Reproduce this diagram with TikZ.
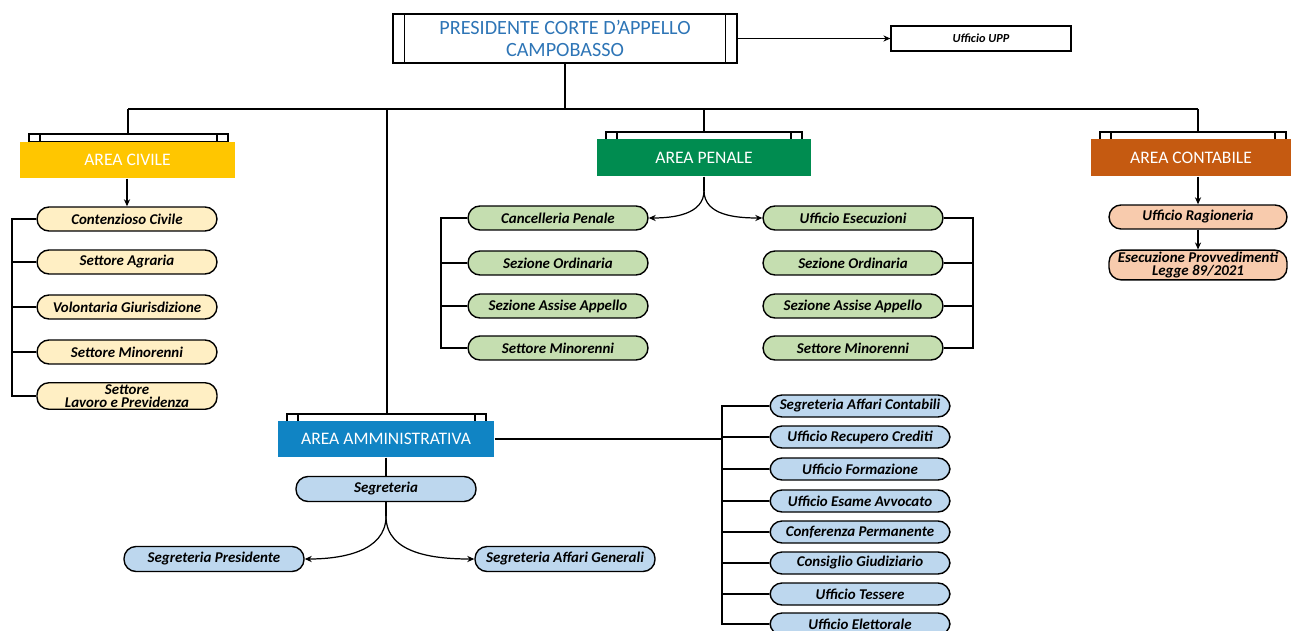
\documentclass[tikz,border=0pt]{standalone}
\usepackage{fontspec}
\setmainfont{Carlito}
\usetikzlibrary{arrows.meta}

\definecolor{presblue}{RGB}{46,117,182}
\definecolor{civyellow}{RGB}{255,198,0}
\definecolor{pengreen}{RGB}{0,140,80}
\definecolor{conorange}{RGB}{197,90,17}
\definecolor{ammblue}{RGB}{16,132,196}
\definecolor{civpill}{RGB}{255,239,196}
\definecolor{penpill}{RGB}{197,222,176}
\definecolor{conpill}{RGB}{248,203,173}
\definecolor{ammpill}{RGB}{189,215,238}

\tikzset{
  area/.style={minimum width=4.3cm, minimum height=0.72cm, inner sep=0pt,
    text=white, font=\fontsize{10}{11}\selectfont},
  pill/.style={draw, line width=0.8pt, rounded corners=0.24cm,
    minimum width=3.6cm, minimum height=0.48cm, inner xsep=2pt, inner ysep=0pt,
    align=center, font=\fontsize{8.5}{7.5}\selectfont\bfseries\itshape},
  arr/.style={-{Stealth[length=4pt,width=3.5pt]}},
}

% linguetta sopra le aree: sinistra, destra, alto
\newcommand{\areatab}[3]{%
  \draw[fill=white] (#1,#3) rectangle (#2,#3+8);
  \draw (#1+11,#3) -- (#1+11,#3+8);
  \draw (#2-11,#3) -- (#2-11,#3+8);
}

\begin{document}
\begin{tikzpicture}[x=0.02cm, y=-0.02cm, line width=0.7pt]
  \useasboundingbox (0,0) rectangle (1293,631);

  % Presidente e ufficio UPP
  \node[draw, minimum width=6.88cm, minimum height=0.98cm, align=center,
    text=presblue, font=\fontsize{11.5}{13}\selectfont] (pres) at (565,38.5)
    {PRESIDENTE CORTE D'APPELLO\\CAMPOBASSO};
  \draw (pres.north west) ++(12,0) -- ++(0,49);
  \draw (pres.north east) ++(-12,0) -- ++(0,49);
  \node[draw, minimum width=3.6cm, minimum height=0.5cm,
    font=\fontsize{7}{8}\selectfont\bfseries\itshape] (upp) at (981,38.5) {Ufficio UPP};
  \draw[arr] (pres) -- (upp);

  % linguette delle aree
  \areatab{29}{228}{134}
  \areatab{606}{802}{132}
  \areatab{1100}{1286}{132}
  \areatab{287}{486}{414}

  % aree
  \node[area, fill=civyellow] (civ) at (127.5,160) {AREA CIVILE};
  \node[area, fill=pengreen, minimum width=4.28cm, minimum height=0.74cm] (pen) at (704,157.5) {AREA PENALE};
  \node[area, fill=conorange, minimum width=4cm, minimum height=0.74cm] (con) at (1191,157.5) {AREA CONTABILE};
  \node[area, fill=ammblue, minimum width=4.32cm] (amm) at (386,439) {AREA AMMINISTRATIVA};

  % barra di collegamento
  \coordinate (jciv) at (128,109);
  \coordinate (jamm) at (387,109);
  \coordinate (jpen) at (704,109);
  \coordinate (jcon) at (1198,109);
  \coordinate (civtab) at (128,134);
  \coordinate (ammtab) at (387,414);
  \coordinate (pentab) at (704,132);
  \coordinate (contab) at (1198,132);
  \draw (pres.south) -- (pres.south |- jciv);
  \draw (jciv) -- (jcon);
  \draw (jciv) -- (civtab);
  \draw (jamm) -- (ammtab);
  \draw (jpen) -- (pentab);
  \draw (jcon) -- (contab);

  % area civile
  \foreach \n/\y/\t in {cc/219/Contenzioso Civile, sa/262/Settore Agraria,
      vg/307/Volontaria Giurisdizione, sm/352/Settore Minorenni} {
    \node[pill, fill=civpill] (\n) at (127,\y) {\t};
  }
  \node[pill, fill=civpill, inner ysep=1pt] (lav) at (127,396) {Settore\\Lavoro e Previdenza};
  \draw[arr] (civ.south -| cc.north) -- (cc.north);
  \coordinate (csp) at (12,219);
  \draw (cc.west) -- (csp) |- (lav.west);
  \foreach \n in {sa,vg,sm} \draw (\n.west) -- (\n.west -| csp);

  % area penale
  \foreach \n/\y/\t in {pc/218/Cancelleria Penale, pso/263/Sezione Ordinaria,
      psa/306/Sezione Assise Appello, psm/348/Settore Minorenni} {
    \node[pill, fill=penpill] (\n) at (558,\y) {\t};
  }
  \foreach \n/\y/\t in {eu/218/Ufficio Esecuzioni, eso/263/Sezione Ordinaria,
      esa/306/Sezione Assise Appello, esm/348/Settore Minorenni} {
    \node[pill, fill=penpill] (\n) at (853,\y) {\t};
  }
  \draw (pen.south) -- ++(0,14) coordinate (penfork);
  \draw[arr] (penfork) to[out=-90, in=0] (pc.east);
  \draw[arr] (penfork) to[out=-90, in=180] (eu.west);
  \coordinate (psp) at (441,218);
  \draw (pc.west) -- (psp) |- (psm.west);
  \foreach \n in {pso,psa} \draw (\n.west) -- (\n.west -| psp);
  \coordinate (esp) at (973,218);
  \draw (eu.east) -- (esp) |- (esm.east);
  \foreach \n in {eso,esa} \draw (\n.east) -- (\n.east -| esp);

  % area contabile
  \node[pill, fill=conpill, minimum width=3.56cm] (rag) at (1198,217) {Ufficio Ragioneria};
  \node[pill, fill=conpill, minimum width=3.56cm, inner ysep=1pt] (esec) at (1198,265) {Esecuzione Provvedimenti\\Legge 89/2021};
  \draw[arr] (con.south -| rag.north) -- (rag.north);
  \draw[arr] (rag) -- (esec);

  % area amministrativa
  \node[pill, fill=ammpill, minimum height=0.5cm] (seg) at (386,489) {Segreteria};
  \node[pill, fill=ammpill, minimum height=0.5cm] (segp) at (214,559) {Segreteria Presidente};
  \node[pill, fill=ammpill, minimum height=0.5cm] (sag) at (565,559) {Segreteria Affari Generali};
  \draw (amm.south) -- (seg.north);
  \draw (seg.south) -- ++(0,14) coordinate (segfork);
  \draw[arr] (segfork) to[out=-90, in=0] (segp.east);
  \draw[arr] (segfork) to[out=-90, in=180] (sag.west);

  \foreach \n/\y/\t in {a1/406/Segreteria Affari Contabili, a2/437/Ufficio Recupero Crediti,
      a3/469/Ufficio Formazione, a4/501/Ufficio Esame Avvocato,
      a5/532/Conferenza Permanente, a6/563/Consiglio Giudiziario,
      a7/594/Ufficio Tessere, a8/624/Ufficio Elettorale} {
    \node[pill, fill=ammpill, minimum height=0.44cm] (\n) at (860,\y) {\t};
  }
  \coordinate (asp) at (722,406);
  \draw (a1.west) -- (asp) |- (a8.west);
  \foreach \n in {a2,a3,a4,a5,a6,a7} \draw (\n.west) -- (\n.west -| asp);
  \draw (amm.east) -- (amm.east -| asp);
\end{tikzpicture}
\end{document}
